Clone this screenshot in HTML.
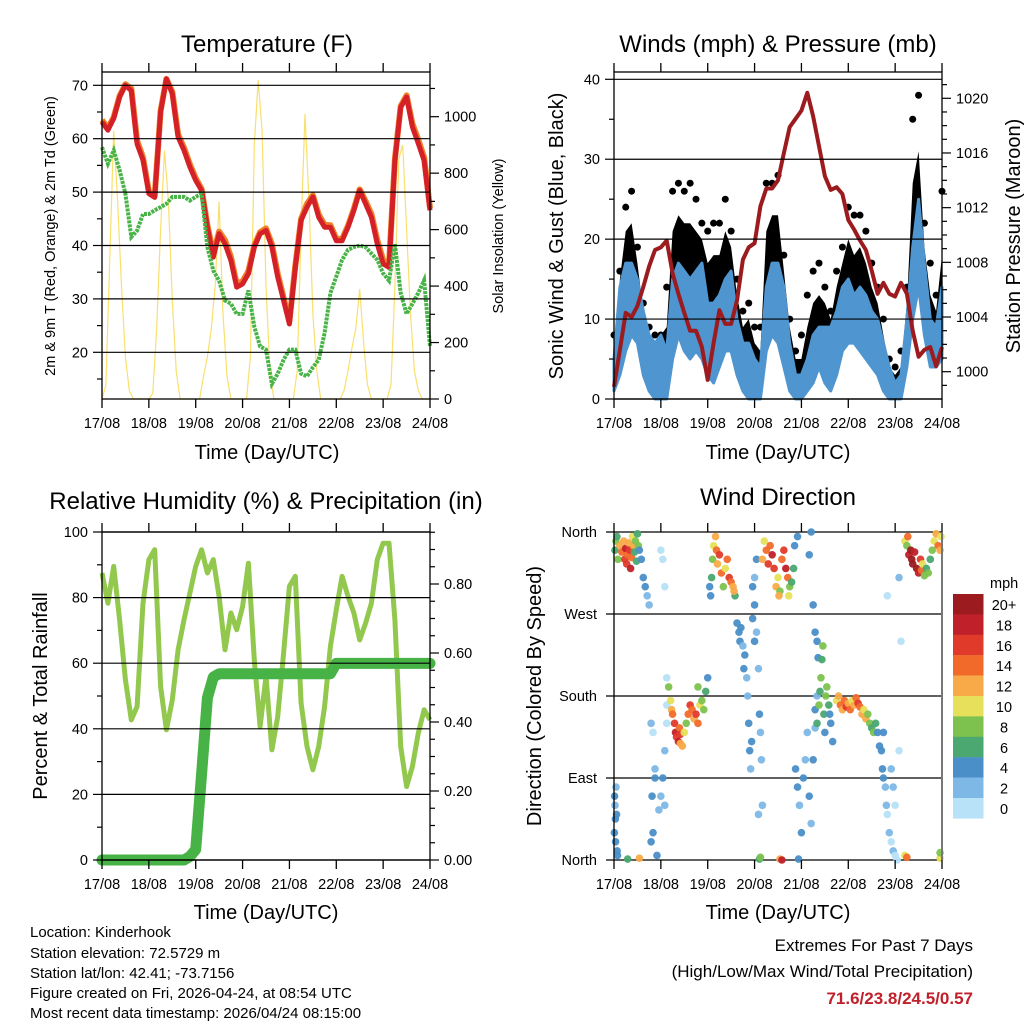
<!DOCTYPE html>
<html><head><meta charset="utf-8"><style>
body{margin:0;background:#fff;}
svg{display:block;font-family:"Liberation Sans",Arial,sans-serif;}
</style></head><body>
<svg id="chart" width="1024" height="1024" viewBox="0 0 1024 1024" xmlns="http://www.w3.org/2000/svg">
<rect width="1024" height="1024" fill="#fff"/>
<g id="g1"></g>
<g id="g2"></g>
<g id="g3"></g>
<g id="g4"></g>
<text x="267" y="52" font-size="24" text-anchor="middle">Temperature (F)</text>
<text x="778" y="52" font-size="24" text-anchor="middle">Winds (mph) &amp; Pressure (mb)</text>
<text x="266" y="509" font-size="24" text-anchor="middle">Relative Humidity (%) &amp; Precipitation (in)</text>
<text x="778" y="505" font-size="24" text-anchor="middle">Wind Direction</text>
<text transform="translate(55,236) rotate(-90)" font-size="14.5" text-anchor="middle">2m &amp; 9m T (Red, Orange) &amp; 2m Td (Green)</text>
<text transform="translate(503,236) rotate(-90)" font-size="14.5" text-anchor="middle">Solar Insolation (Yellow)</text>
<text transform="translate(563,236) rotate(-90)" font-size="20" text-anchor="middle">Sonic Wind &amp; Gust (Blue, Black)</text>
<text transform="translate(1020,236) rotate(-90)" font-size="20" text-anchor="middle">Station Pressure (Maroon)</text>
<text transform="translate(47,696) rotate(-90)" font-size="20" text-anchor="middle">Percent &amp; Total Rainfall</text>
<text transform="translate(541,696) rotate(-90)" font-size="20" text-anchor="middle">Direction (Colored By Speed)</text>
<text x="267" y="459" font-size="20" text-anchor="middle">Time (Day/UTC)</text>
<text x="778" y="459" font-size="20" text-anchor="middle">Time (Day/UTC)</text>
<text x="266" y="919" font-size="20" text-anchor="middle">Time (Day/UTC)</text>
<text x="778" y="919" font-size="20" text-anchor="middle">Time (Day/UTC)</text>
<g font-size="15">
<text x="30" y="937">Location: Kinderhook</text>
<text x="30" y="958">Station elevation: 72.5729 m</text>
<text x="30" y="978">Station lat/lon: 42.41; -73.7156</text>
<text x="30" y="998">Figure created on Fri, 2026-04-24, at 08:54 UTC</text>
<text x="30" y="1018">Most recent data timestamp: 2026/04/24 08:15:00</text>
</g>
<g font-size="17" text-anchor="end">
<text x="973" y="951">Extremes For Past 7 Days</text>
<text x="973" y="977">(High/Low/Max Wind/Total Precipitation)</text>
<text x="973" y="1004" font-weight="bold" fill="#c0202a">71.6/23.8/24.5/0.57</text>
</g>
<g id="legend"></g>
</svg>
<script>
// ---- data (3-hourly, t = 0..168 h) ----
const hours3 = [0,3,6,9,12,15,18,21,24,27,30,33,36,39,42,45,48,51,54,57,60,63,66,69,72,75,78,81,84,87,90,93,96,99,102,105,108,111,114,117,120,123,126,129,132,135,138,141,144,147,150,153,156,159,162,165,168];
const dayLabels = ["17/08","18/08","19/08","20/08","21/08","22/08","23/08","24/08"];
const temp2m = [63.1,61.6,63.8,67.8,70,69,59,56,49.7,49,65,71.2,68.4,60.3,57.8,54.7,52.2,50.3,43.4,37.8,42.2,40.3,37.2,32.2,32.8,34.7,39.7,42.2,42.8,39.7,34.1,29.7,25.3,35.9,44.7,47.2,49.1,45.3,43.4,43.4,40.9,40.9,43.4,46.6,50.3,47.8,45.3,40.3,36.6,35.9,55.9,65.9,67.8,62.2,59.1,55.9,46.6];
const temp9m = [63.5,62,64,68,70.2,69.4,59.6,56.5,50.1,49.3,65.2,71.2,68.8,60.8,58.3,55.2,52.6,50.6,43.8,38.4,42.6,41,37.9,32.8,33.3,35.2,40,42.5,43.2,40.3,34.7,30.2,25.8,36.2,45,47.8,49.4,45.8,43.9,43.8,41.3,41.2,43.7,46.9,50.5,48.3,45.9,41,37.3,36.4,56.2,66.1,68.1,62.8,59.8,56.5,47];
const dewpoint = [58.4,55.3,57.8,54.1,49.7,41.6,42.8,45.9,45.9,46.6,47.2,47.8,49.1,49.1,49.1,48.4,49.1,49.7,39.7,35.3,33.4,29.7,29.1,27.2,27.2,31.6,24.8,21.1,20.5,14.1,16,18.6,20.5,20.5,16,15.5,17.2,18.6,23.6,31.1,34.2,37.3,39.2,39.7,40,39.7,38.5,37.3,34.8,33.4,40.3,31.1,27.2,29.1,31.1,33.5,21.1];
const hours2 = [0,2,4,6,8,10,12,14,16,18,20,22,24,26,28,30,32,34,36,38,40,42,44,46,48,50,52,54,56,58,60,62,64,66,68,70,72,74,76,78,80,82,84,86,88,90,92,94,96,98,100,102,104,106,108,110,112,114,116,118,120,122,124,126,128,130,132,134,136,138,140,142,144,146,148,150,152,154,156,158,160,162,164,166,168];
const solar = [0,50,500,950,700,400,150,30,0,0,0,0,0,20,250,600,880,700,350,100,0,0,0,0,0,0,80,150,250,400,700,300,80,0,0,0,0,0,150,900,1130,950,400,100,0,0,0,0,0,0,100,600,1010,700,300,100,0,0,0,0,0,0,30,100,180,250,390,200,50,0,0,0,0,0,50,400,850,900,600,300,100,30,0,0,0];
const pressure = [998.9,1001.6,1004.3,1004,1004.8,1006.2,1007.7,1008.9,1009.1,1009.6,1007.2,1005.7,1004.3,1003,1003,1001.8,999.4,1002.1,1004.5,1003.5,1003.5,1005.2,1008.2,1009.1,1009.4,1012.1,1013.4,1013.4,1014,1016,1017.9,1018.5,1019.1,1020.4,1018.7,1016.5,1014.3,1013.3,1013.5,1013,1011.1,1010.4,1009.6,1008.9,1007.4,1005.7,1006.5,1005.7,1005.5,1006.5,1005.7,1003,1001.1,1001.6,1001.8,1000.4,1001.8];
const windLo = [1,3,6,8,7,3,1,0,0,0,5,8,6,5,6,5,3,2,4,6,6,3,1,0,0,0,6,8,7,4,1,0,0,1,2,4,2,1,3,6,7,7,6,5,4,3,1,0,0,0,4,10,14,8,4,4,5];
const windHi = [5,14,17,17,15,11,8,7,8,6,15,17,16,15,16,17,12,12,13,15,16,10,7,7,5,4,14,17,17,14,7,3,3,5,8,9,9,9,11,14,15,13,14,13,11,10,7,4,2,3,10,19,25,17,10,9,14];
const gustDense = [6,15,21,22,17,11,8,7,8,9,21,23,22,22,21,20,17,18,18,21,19,13,9,10,7,6,21,23,23,16,9,5,5,9,12,13,12,10,14,17,20,18,19,17,14,12,8,4,3,4,12,27,31,19,13,11,18];
const gustHi = [8,16,24,26,19,12,9,8,8,14,26,27,26,27,25,22,21,22,22,25,21,15,11,12,9,9,27,27,28,18,10,6,8,13,16,17,14,11,16,19,24,23,23,21,17,14,10,5,4,6,14,35,38,22,17,13,26];
const precip = [0,0,0,0,0,0,0,0,0,0,0,0,0,0,0,0.01,0.03,0.25,0.47,0.53,0.54,0.54,0.54,0.54,0.54,0.54,0.54,0.54,0.54,0.54,0.54,0.54,0.54,0.54,0.54,0.54,0.54,0.54,0.54,0.54,0.57,0.57,0.57,0.57,0.57,0.57,0.57,0.57,0.57,0.57,0.57,0.57,0.57,0.57,0.57,0.57,0.57];
const rh = [87.5,78.3,89.5,73.2,55,42.7,46.8,78.3,91.6,94.6,52.9,39.7,48.8,64.1,73.2,81.4,89.5,94.6,87.5,91.6,80.4,64.1,75.3,70.2,77.3,90.5,61,40.7,56,33.6,43.7,63.1,83.4,86.5,47.8,34.6,27.5,34.6,46.8,65.1,76.3,86.5,80.4,75.3,67.1,72.2,78.3,91.6,96.6,96.6,73.2,34.6,22.4,28.5,38.7,45.8,42.7];
// wind direction observations: time (h), direction (deg), speed (mph)
const dirTime = [0.5,1,1.5,2,3,4,5,5.5,6,6.5,7,7.5,8,8.5,9,9.5,10,10.5,11,11.5,12,12.5,13,0.2,0.3,0.5,0.7,0.8,1,1.3,1.6,1.8,7,13,14,15,16,17,18,19,20,21,21,19.5,20,19,25,26,27,27,26,25,24,23,22,26,24,27,28,29,29.5,30,31,31.5,32,33,33.5,34,35,36,37,38,39,40,41,42,43,44,45,46,47,48,43,34,49,49.5,50,50.5,51,52,52.5,53,54,55,56,57,58,59,60,61,62,61.5,63,64,64.5,65,66,67,68,68.5,69,69.5,70,66.5,70.5,71,72,73,74,74.5,75,75.5,76,71,72,73,72,74,74.5,75,76,77,78,79,80,81,82,83,84,85,84.5,86,87,88,89,90,91,92,92.5,89.5,94,94.5,85,86,93,94,95,96,97,98,99,100,101,102,103,104,100,101,102,103,104,104.5,103,104,105,105.5,106,106.5,107,107.5,108,108.5,109,110,111,112,110.5,114,115,116,117,118,119,120,121,122,123,124,125,126,127,128,129,130,131,132,133,134,135,136,137,137.5,138,139,139.5,140,141,142,143,144,145,142,143,144,138,146,147,146,140,149,150,150.5,151,152,152.5,153,154,155,156,157,157.5,158,159,160,161,162,163,164,165,166,167,167.5,149,150,167,167];
const dirDeg = [340,350,355,330,345,338,350,330,342,325,335,348,340,320,332,355,345,338,350,328,358,345,340,30,70,60,45,20,80,50,10,5,1,2,330,310,300,290,280,150,140,100,90,70,30,20,330,300,170,150,120,90,70,55,5,60,340,200,190,175,165,160,150,140,135,130,145,138,125,140,150,160,170,165,155,160,150,170,175,165,185,200,190,128,300,290,310,330,345,355,340,325,335,315,300,320,330,310,305,300,290,295,260,250,240,255,235,225,200,180,150,120,100,210,130,265,240,250,210,160,140,110,60,300,310,330,280,50,1,3,330,350,340,325,345,335,320,300,310,295,290,330,340,320,310,300,305,320,345,290,355,1,1,0,100,80,60,30,90,110,140,70,40,110,145,180,335,360,280,250,240,222,165,150,170,185,200,220,235,160,140,180,190,170,150,130,160,175,180,170,165,175,168,172,165,175,170,178,172,168,160,165,155,160,150,145,140,150,140,125,120,100,90,80,60,50,30,20,10,5,0,100,80,60,140,120,240,310,290,350,345,355,335,340,330,325,338,320,315,330,318,325,312,320,315,330,340,350,358,345,340,355,5,3,2,8];
const dirSpeed = [7,8,6,8,12,14,12,16,18,16,14,12,16,18,14,10,12,6,8,6,6,8,4,4,4,3,4,4,3,4,4,5,7,12,4,4,4,3,2,2,1,3,4,4,4,4,1,1,1,1,3,4,2,2,4,3,1,1,8,10,12,14,16,18,16,18,14,16,12,10,8,14,16,14,12,16,14,10,8,8,6,4,8,12,4,4,6,8,10,12,14,12,16,14,8,10,14,16,14,12,6,12,4,4,4,4,3,4,3,2,4,4,2,4,4,4,4,3,2,4,2,2,2,4,2,4,4,2,6,8,12,10,14,16,14,18,16,12,10,8,12,14,16,18,14,8,6,6,4,10,4,4,12,18,4,4,2,4,4,2,2,4,2,4,2,2,4,4,4,4,4,4,4,6,8,6,8,6,8,6,4,8,8,6,4,4,4,10,12,14,12,14,16,12,14,10,12,14,16,14,12,10,12,8,8,6,8,6,4,4,4,4,4,2,2,1,2,1,2,1,1,2,2,1,4,1,1,2,1,10,8,14,18,20,22,20,18,22,18,16,14,10,8,6,8,6,8,10,12,14,12,10,10,14,10,8];
const dirTickLabels = ["North","East","South","West","North"];
const speedColors = ["#b7e2f7","#7db8e6","#4a8fc8","#4aa870","#7dc24f","#e6e05a","#f8aa48","#f26a2a","#e03a2a","#c0202a","#9b1b1e"];
const speedLabels = ["0","2","4","6","8","10","12","14","16","18","20+"];

const NS='http://www.w3.org/2000/svg';
function mk(parent,tag,attrs){const e=document.createElementNS(NS,tag);for(const k in attrs)e.setAttribute(k,attrs[k]);parent.appendChild(e);return e;}
function lin(d0,d1,r0,r1){return v=>r0+(v-d0)/(d1-d0)*(r1-r0);}

function frame(g,x0,x1,y0,y1,xs){
  for(let k=0;k<dayLabels.length;k++){
    const x=xs(k*24);
    const tt=mk(g,'line',{x1:x,x2:x,y1:y0-9,y2:y0,stroke:'#000','stroke-width':1.3});
    
    
    const tb=mk(g,'line',{x1:x,x2:x,y1:y1,y2:y1+9,stroke:'#000','stroke-width':1.3});
    
    
    const t=mk(g,'text',{x:x,y:y1+29,'font-size':14.5,'text-anchor':'middle'});
    t.textContent=dayLabels[k];
    
    
  }
  const b=mk(g,'rect',{x:x0,y:y0,width:x1-x0,height:y1-y0,fill:'none',stroke:'#000','stroke-width':1.3});
  
  
}
function yAxis(g,side,x,ys,vmin,vmax,major,minor,fmt,grid,x0,x1){
  for(let v=vmin;v<=vmax+1e-9;v+=minor){
    const y=ys(v);const isMaj=Math.abs(Math.round(v/major)*major-v)<1e-6;
    const len=isMaj?9:5;
    const l=mk(g,'line',{x1:x,x2:side==='L'?x-len:x+len,y1:y,y2:y,stroke:'#000','stroke-width':1.2});
    
    
    if(isMaj){
      if(grid){const gl=mk(g,'line',{x1:x0,x2:x1,y1:y,y2:y,stroke:'#000','stroke-width':1.2});
        
        }
      const t=mk(g,'text',{x:side==='L'?x-14:x+14,y:y+5,'font-size':14.5,'text-anchor':side==='L'?'end':'start'});
      t.textContent=fmt(v);
      
      
    }
  }
}
function path(xs,ys,X,Y){return X.map((t,i)=>(i?'L':'M')+xs(t).toFixed(1)+','+ys(Y[i]).toFixed(1)).join('');}
function band(xs,ys,X,top,bot){
  return 'M'+X.map((t,i)=>xs(t).toFixed(1)+','+ys(top[i]).toFixed(1)).join('L')+'L'+X.map((t,i)=>i).reverse().map(i=>xs(X[i]).toFixed(1)+','+ys(bot[i]).toFixed(1)).join('L')+'Z';
}

// ---- Panel 1: Temperature ----
(function(){
  const g=document.getElementById('g1');
  const x0=102,x1=430,y0=72,y1=399;
  const xs=lin(0,168,x0,x1), ys=lin(20,70,352.3,85.3), ss=lin(0,1000,399,116.7);
  const s=mk(g,'path',{d:path(xs,ss,hours2,solar),fill:'none',stroke:'#f9df6d','stroke-width':1.2});
  
  
  const o=mk(g,'path',{d:path(xs,ys,hours3,temp9m),fill:'none',stroke:'#f07f2a','stroke-width':6,'stroke-linejoin':'round'});
  
  
  const r=mk(g,'path',{d:path(xs,ys,hours3,temp2m),fill:'none',stroke:'#d42027','stroke-width':5,'stroke-linejoin':'round'});
  
  
  const d=mk(g,'path',{d:path(xs,ys,hours3,dewpoint),fill:'none',stroke:'#48b347','stroke-width':4,'stroke-dasharray':'3 1'});
  
  
  yAxis(g,'L',x0,ys,15,70,10,5,v=>v,false);
  for(let v=20;v<=70;v+=10){const gl=mk(g,'line',{x1:x0,x2:x1,y1:ys(v),y2:ys(v),stroke:'#000','stroke-width':1.2});
    
    }
  yAxis(g,'R',x1,ss,0,1100,200,100,v=>v,false);
  frame(g,x0,x1,y0,y1,xs);
})();

// ---- Panel 2: Winds ----
(function(){
  const g=document.getElementById('g2');
  const x0=614,x1=942,y0=72,y1=399;
  const xs=lin(0,168,x0,x1), ws=lin(0,40,399,79.3), ps=lin(1000,1020,371.7,98.3);
  const gb=mk(g,'path',{d:band(xs,ws,hours3,gustDense,windLo),fill:'#000'});
  
  
  hours3.forEach((t,i)=>{const c=mk(g,'circle',{cx:xs(t),cy:ws(gustHi[i]),r:3.5,fill:'#000'});
    
    });
  const wb=mk(g,'path',{d:band(xs,ws,hours3,windHi,windLo),fill:'#4f95d0',stroke:'#4f95d0','stroke-width':3,'stroke-linejoin':'round'});
  
  
  const p=mk(g,'path',{d:path(xs,ps,hours3,pressure),fill:'none',stroke:'#9b1b1e','stroke-width':4,'stroke-linejoin':'round'});
  
  
  yAxis(g,'L',x0,ws,0,40,10,5,v=>v,true,x0,x1);
  yAxis(g,'R',x1,ps,999,1021,4,1,v=>v,false);
  frame(g,x0,x1,y0,y1,xs);
})();

// ---- Panel 3: RH & precip ----
(function(){
  const g=document.getElementById('g3');
  const x0=102,x1=430,y0=532,y1=860;
  const xs=lin(0,168,x0,x1), ys=lin(0,100,860,532), rs=lin(0,0.8,860,584);
  const h=mk(g,'path',{d:path(xs,ys,hours3,rh),fill:'none',stroke:'#92c84e','stroke-width':5,'stroke-linejoin':'round'});
  
  
  const p=mk(g,'path',{d:path(xs,rs,hours3,precip),fill:'none',stroke:'#47b347','stroke-width':11,'stroke-linejoin':'round','stroke-linecap':'round'});
  
  
  yAxis(g,'L',x0,ys,0,100,20,10,v=>v,true,x0,x1);
  yAxis(g,'R',x1,rs,0,0.95,0.2,0.05,v=>v.toFixed(2),false);
  frame(g,x0,x1,y0,y1,xs);
})();

// ---- Panel 4: Wind direction ----
(function(){
  const g=document.getElementById('g4');
  const x0=614,x1=942,y0=532,y1=860;
  const xs=lin(0,168,x0,x1), ds=lin(0,360,860,532);
  for(let k=0;k<dirTickLabels.length;k++){
    const y=ds(k*90);
    const gl=mk(g,'line',{x1:x0-8,x2:x1,y1:y,y2:y,stroke:'#000','stroke-width':1.2});
    
    
    const t=mk(g,'text',{x:x0-17,y:y+5,'font-size':14.5,'text-anchor':'end'});
    t.textContent=dirTickLabels[k];
    
    
  }
  dirTime.forEach((t,i)=>{
    const ci=Math.min(10,Math.floor(dirSpeed[i]/2));
    const c=mk(g,'circle',{cx:xs(t),cy:ds(dirDeg[i]),r:3.8,fill:speedColors[ci],opacity:0.95});
    
    
  });
  for(let k=0;k<dayLabels.length;k++){
    const x=xs(k*24);
    const tt=mk(g,'line',{x1:x,x2:x,y1:y0-9,y2:y0,stroke:'#000','stroke-width':1.3});
    
    
    const tb=mk(g,'line',{x1:x,x2:x,y1:y1,y2:y1+9,stroke:'#000','stroke-width':1.3});
    
    
    const t=mk(g,'text',{x:x,y:y1+29,'font-size':14.5,'text-anchor':'middle'});
    t.textContent=dayLabels[k];
    
    
  }
  const l=mk(g,'line',{x1:x0,x2:x0,y1:y0,y2:y1,stroke:'#000','stroke-width':1.3});
  
  
  const r=mk(g,'line',{x1:x1,x2:x1,y1:y0,y2:y1,stroke:'#777','stroke-width':2});
  
  
  const lg=document.getElementById('legend');
  const mt=mk(lg,'text',{x:990,y:588,'font-size':14.5});
  mt.textContent='mph';
  
  
  for(let k=0;k<speedColors.length;k++){
    const idx=speedColors.length-1-k;
    const y=594+k*20.4;
    const bx=mk(lg,'rect',{x:953,y:y,width:30.5,height:20.6,fill:speedColors[idx]});
    
    
    const t=mk(lg,'text',{x:1004,y:y+16,'font-size':14.5,'text-anchor':'middle'});
    t.textContent=speedLabels[idx];
    
    
  }
})();
</script>
</body></html>
